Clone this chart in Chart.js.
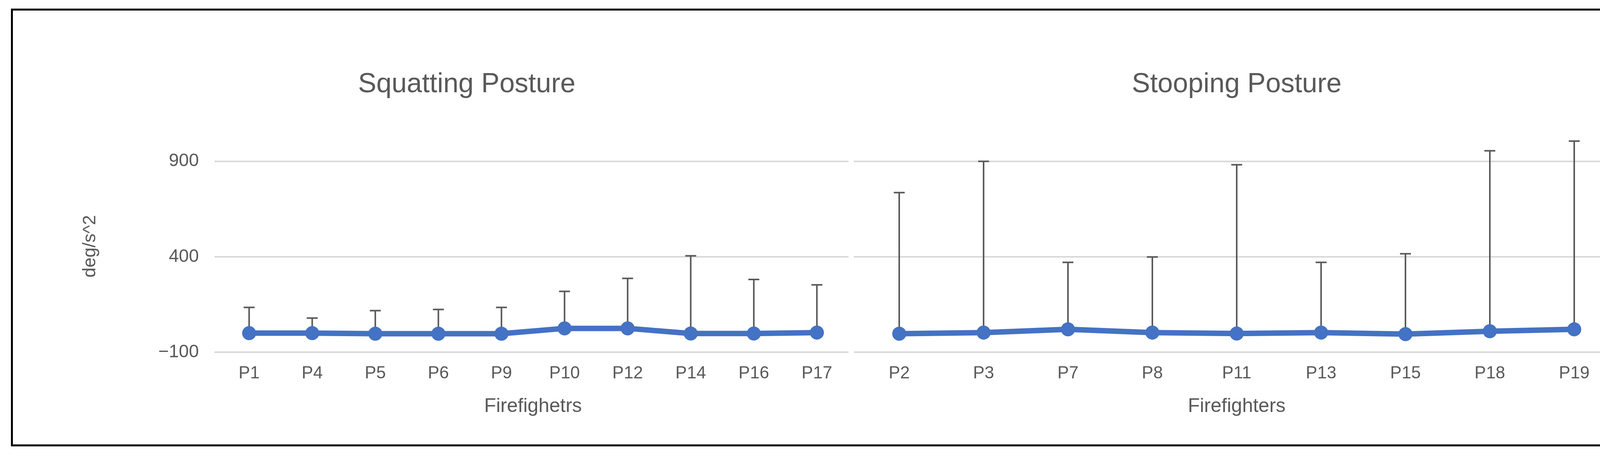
<!DOCTYPE html>
<html><head><meta charset="utf-8">
<script src="https://cdn.jsdelivr.net/npm/chart.js@4"></script>
<style>
body{margin:0;background:#fff;width:4366px;height:1182px;overflow:hidden;position:relative}
#frame{position:absolute;left:28px;top:22px;width:4306px;height:1120px;border:5px solid #000;box-sizing:border-box}
canvas{position:absolute}
</style></head><body>
<div id="frame"></div>
<div style="position:absolute;left:200px;top:100px;width:1990px;height:1000px"><canvas id="c1"></canvas></div>
<div style="position:absolute;left:2176px;top:100px;width:1980px;height:1000px"><canvas id="c2"></canvas></div>
<script>
// 左: しゃがみ姿勢
const squatLabels = ['P1','P4','P5','P6','P9','P10','P12','P14','P16','P17'];
const squatMean   = [0, 0, -3, -3, -3, 25, 25, -2, -2, 3];
const squatUpper  = [135, 79, 118, 124, 135, 219, 287, 405, 281, 253];
// 右: 前かがみ姿勢
const stoopLabels = ['P2','P3','P7','P8','P11','P13','P15','P18','P19'];
const stoopMean   = [-3, 3, 20, 3, -2, 3, -5, 10, 20];
const stoopUpper  = [736, 900, 371, 399, 882, 371, 416, 955, 1006];
const yTicks = [-100, 400, 900];

const txt = '#595959';
const fnt = 'Liberation Sans';

// エラーバー(上側のみ)
const errorBars = {
  id: 'errorBars',
  beforeDatasetsDraw(chart, args, opts) {
    const ctx = chart.ctx, xs = chart.scales.x, ys = chart.scales.y;
    ctx.save();
    ctx.strokeStyle = txt; ctx.lineWidth = 4;
    opts.upper.forEach((u, i) => {
      const x = xs.getPixelForValue(i);
      const y0 = ys.getPixelForValue(opts.mean[i]);
      const y1 = ys.getPixelForValue(u);
      ctx.beginPath();
      ctx.moveTo(x, y0); ctx.lineTo(x, y1);
      ctx.moveTo(x - 14, y1); ctx.lineTo(x + 14, y1);
      ctx.stroke();
    });
    ctx.restore();
  }
};

function makeChart(id, labels, mean, upper, title, xTitle, showY) {
  return new Chart(document.getElementById(id), {
    type: 'line',
    data: { labels: labels, datasets: [{
      data: mean, borderColor: '#4472C4', backgroundColor: '#4472C4',
      borderWidth: 14, pointRadius: 18, pointHoverRadius: 18, pointBorderWidth: 0, tension: 0
    }]},
    options: {
      responsive: true, maintainAspectRatio: false, animation: false,
      layout: { padding: { right: 0, top: 75 } },
      plugins: {
        legend: { display: false }, tooltip: { enabled: false },
        title: { display: true, text: title, color: txt, font: { family: fnt, size: 70, weight: 'normal' }, padding: { bottom: 100 } },
        errorBars: { mean: mean, upper: upper }
      },
      scales: {
        x: { offset: true, grid: { display: false }, border: { display: false },
             ticks: { color: txt, font: { family: fnt, size: 44 }, padding: 20, maxRotation: 0 },
             title: { display: true, text: xTitle, color: txt, font: { family: fnt, size: 50 }, padding: { top: 8, bottom: 30 } } },
        y: { min: -100, max: 1010, display: true,
             afterBuildTicks: s => { s.ticks = yTicks.map(v => ({ value: v })); },
             afterFit: s => { s.width = showY ? 357 : 0; },
             grid: { color: '#d9d9d9', lineWidth: 4 }, border: { display: false },
             ticks: { display: showY, color: txt, font: { family: fnt, size: 46 }, padding: 40,
                      callback: v => v < 0 ? '\u2212' + Math.abs(v) : v },
             title: { display: showY, text: 'deg/s^2', color: txt, font: { family: fnt, size: 46 } } }
      }
    },
    plugins: [errorBars]
  });
}

makeChart('c1', squatLabels, squatMean, squatUpper, 'Squatting Posture', 'Firefighetrs', true);
makeChart('c2', stoopLabels, stoopMean, stoopUpper, 'Stooping Posture', 'Firefighters', false);
</script>
</body></html>
